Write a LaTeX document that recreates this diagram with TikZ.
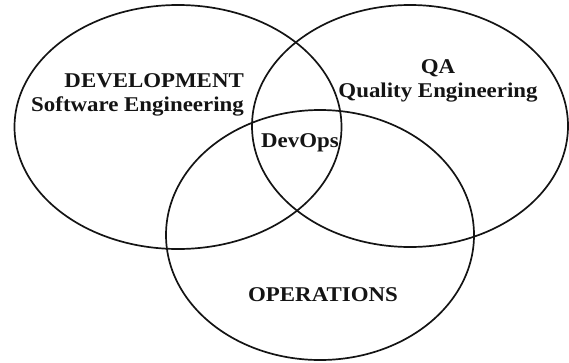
\documentclass[tikz,border=0pt]{standalone}
\usepackage{fontspec}
\setmainfont{Liberation Serif}
\newfontfamily\vennfont[FakeStretch=1.09]{Liberation Serif}
\usepackage{xcolor}
\usepackage{tikz}
\definecolor{lineblack}{RGB}{20, 20, 20}
\usetikzlibrary{shapes.geometric, positioning}

\begin{document}
\begin{tikzpicture}[x=1pt, y=-1pt,
    venn/.style={draw=lineblack, line width=1.7pt, ellipse, inner sep=0pt},
    vennlabel/.style={font=\vennfont\fontsize{21}{24}\selectfont\bfseries, text=lineblack, inner sep=0pt}]
    \useasboundingbox (0,0) rectangle (569,362);
    % the three circles
    \node[venn, minimum width=327pt, minimum height=244pt] (dev) at (178,127) {};
    \node[venn, minimum width=316pt, minimum height=242pt] (qa) at (410,126) {};
    \node[venn, minimum width=308pt, minimum height=250pt] (ops) at (320,235) {};
    % labels
    \node[vennlabel, align=right, anchor=east] (devtext) at (244,95) {DEVELOPMENT\\Software Engineering};
    \node[vennlabel, align=center] (qatext) at (438,81) {QA\\Quality Engineering};
    \node[vennlabel] (devops) at (300,143) {DevOps};
    \node[vennlabel] (opstext) at (323,295) {OPERATIONS};
\end{tikzpicture}
\end{document}
